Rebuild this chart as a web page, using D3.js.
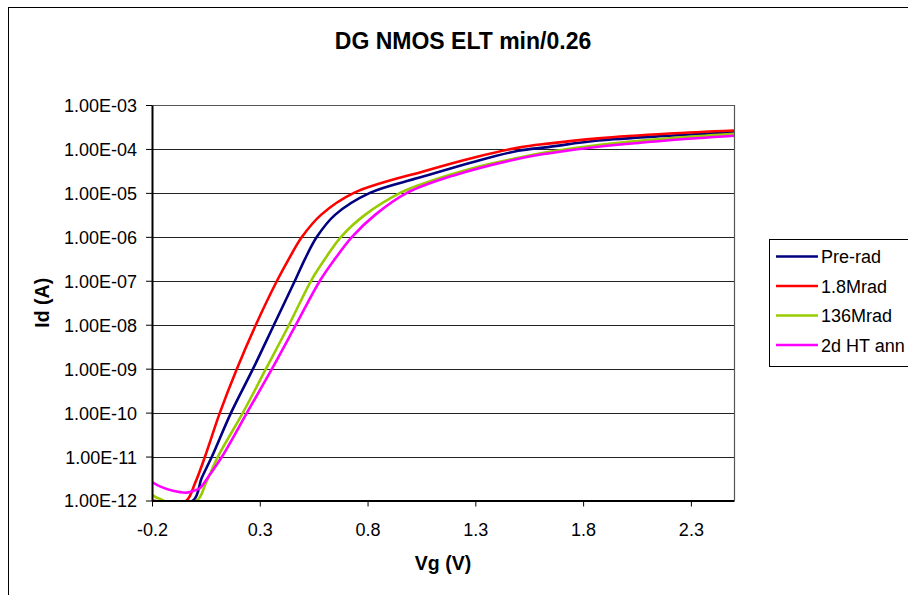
<!DOCTYPE html>
<html>
<head>
<meta charset="utf-8">
<script src="https://cdn.jsdelivr.net/npm/d3@7"></script>
<style>
	body { margin: 0; background: #fff; }
	svg text { font-family: "Liberation Sans", Arial, sans-serif; fill: #000; }
</style>
</head>
<body>
<div id="chart"></div>
<script>
//-----------------------------------
// Data (Vg in V, Id in A)
const seriesNames = ["Pre-rad", "1.8Mrad", "136Mrad", "2d HT ann"];

const vgPreRad = [-0.2, -0.01, 0.03, 0.078, 0.167, 0.269, 0.366, 0.463, 0.51, 0.565, 0.649, 0.811, 1.037, 1.3, 1.5, 1.637, 1.87, 2.2, 2.5];
const idPreRad = [8.9e-13, 1.0e-12, 3.2e-12, 1e-11, 1e-10, 1e-9, 1e-8, 1e-7, 3.16e-7, 1e-6, 3.16e-6, 1e-5, 2.2e-5, 5.2e-5, 9.1e-5, 1.1e-4, 1.55e-4, 2.0e-4, 2.4e-4];

const vg18Mrad = [-0.2, -0.1, -0.04, 0.0, 0.046, 0.115, 0.194, 0.282, 0.38, 0.435, 0.496, 0.584, 0.737, 1.066, 1.3, 1.5, 1.637, 1.87, 2.2, 2.5];
const id18Mrad = [1.0e-12, 8.9e-13, 1.0e-12, 2.5e-12, 1e-11, 1e-10, 1e-9, 1e-8, 1e-7, 3.16e-7, 1e-6, 3.16e-6, 1e-5, 3.16e-5, 6.5e-5, 1.07e-4, 1.32e-4, 1.74e-4, 2.24e-4, 2.63e-4];

const vg136Mrad = [-0.2, -0.18, -0.16, -0.12, 0.008, 0.05, 0.106, 0.222, 0.329, 0.436, 0.538, 0.603, 0.677, 0.788, 0.951, 1.037, 1.3, 1.5, 1.637, 1.87, 2.2, 2.5];
const id136Mrad = [1.35e-12, 1.17e-12, 1.07e-12, 8.9e-13, 1e-12, 2.5e-12, 1e-11, 1e-10, 1e-9, 1e-8, 1e-7, 3.16e-7, 1e-6, 3.16e-6, 1e-5, 1.5e-5, 3.8e-5, 6.3e-5, 8.5e-5, 1.23e-4, 1.74e-4, 2.2e-4];

const vgAnneal = [-0.2, -0.163, -0.103, -0.038, -0.001, 0.022, 0.07, 0.125, 0.241, 0.357, 0.468, 0.579, 0.649, 0.728, 0.835, 0.983, 1.2, 1.5, 1.637, 1.87, 2.2, 2.5];
const idAnneal = [2.63e-12, 2.09e-12, 1.66e-12, 1.51e-12, 1.70e-12, 1.91e-12, 4.0e-12, 1e-11, 1e-10, 1e-9, 1e-8, 1e-7, 3.16e-7, 1e-6, 3.16e-6, 1e-5, 2.5e-5, 6.0e-5, 7.9e-5, 1.12e-4, 1.58e-4, 2.0e-4];

const xTicks = [-0.2, 0.3, 0.8, 1.3, 1.8, 2.3];
const yTicks = [1e-12, 1e-11, 1e-10, 1e-9, 1e-8, 1e-7, 1e-6, 1e-5, 1e-4, 1e-3];

const seriesColors = ["#000080", "#FF0000", "#99CC00", "#FF00FF"];

//-----------------------------------
function fmtExp(d) {
	let e = Math.round(Math.log10(d));
	let s = Math.abs(e) < 10 ? "0" + Math.abs(e) : "" + Math.abs(e);
	return "1.00E" + (e < 0 ? "-" : "+") + s;
}

function draw() {
	const width = 908, height = 595;
	const left = 152, right = 734, top = 105, bottom = 500.5;

	let svg = d3.select("#chart").append("svg")
		.attr("width", width).attr("height", height);

	// outer chart frame
	svg.append("rect")
		.attr("x", 8.5).attr("y", 7.5).attr("width", 1000).attr("height", 700)
		.attr("fill", "#fff").attr("stroke", "#000").attr("stroke-width", 1);

	let x = d3.scaleLinear().domain([-0.2, 2.5]).range([left, right]);
	let y = d3.scaleLog().domain([1e-12, 1e-3]).range([bottom, top]);

	//------- gridlines
	svg.append("g").selectAll("line").data(yTicks).join("line")
		.attr("x1", left).attr("x2", right)
		.attr("y1", d => Math.round(y(d)) + 0.5).attr("y2", d => Math.round(y(d)) + 0.5)
		.attr("stroke", "#222").attr("stroke-width", 1);

	// plot area border (top/right)
	svg.append("path")
		.attr("d", `M${left},${top + 0.5}H${right + 0.5}V${bottom}`)
		.attr("fill", "none").attr("stroke", "#555").attr("stroke-width", 1.2);

	//------- series
	svg.append("clipPath").attr("id", "plotClip")
		.append("rect").attr("x", left).attr("y", top).attr("width", right - left).attr("height", bottom - top);

	const allSeries = [
		{ vg: vgPreRad, id: idPreRad },
		{ vg: vg18Mrad, id: id18Mrad },
		{ vg: vg136Mrad, id: id136Mrad },
		{ vg: vgAnneal, id: idAnneal }
	];

	let line = d3.line()
		.x(d => x(d[0]))
		.y(d => y(d[1]))
		.curve(d3.curveCatmullRom.alpha(0.5));

	let gLines = svg.append("g").attr("clip-path", "url(#plotClip)");
	allSeries.forEach((s, i) => {
		let pts = s.vg.map((v, k) => [v, s.id[k]]);
		gLines.append("path")
			.attr("d", line(pts))
			.attr("fill", "none")
			.attr("stroke", seriesColors[i])
			.attr("stroke-width", 2.6)
			.attr("stroke-linejoin", "round");
	});

	//------- axes
	let yAxis = d3.axisLeft(y).tickValues(yTicks).tickFormat(fmtExp).tickSize(6).tickSizeOuter(0).tickPadding(9);
	let gy = svg.append("g").attr("transform", `translate(${left},0)`).call(yAxis);
	gy.select(".domain").attr("stroke", "#000").attr("stroke-width", 2);
	gy.selectAll(".tick line").attr("stroke", "#000");
	gy.selectAll(".tick text").attr("font-size", 18).attr("dy", "0.36em");

	let xAxis = d3.axisBottom(x).tickValues(xTicks).tickFormat(d => d.toFixed(1)).tickSize(6).tickSizeOuter(0);
	let gx = svg.append("g").attr("transform", `translate(0,${bottom})`).call(xAxis);
	gx.select(".domain").attr("stroke", "#000").attr("stroke-width", 2);
	gx.selectAll(".tick line").attr("stroke", "#000");
	gx.selectAll(".tick text").attr("font-size", 18).attr("dy", null).attr("y", 35);

	svg.selectAll("g").attr("font-family", null);

	//------- titles
	svg.append("text")
		.attr("x", 463).attr("y", 49)
		.attr("text-anchor", "middle")
		.attr("font-size", 23).attr("font-weight", "bold")
		.text("DG NMOS ELT min/0.26");

	svg.append("text")
		.attr("x", (left + right) / 2).attr("y", 570)
		.attr("text-anchor", "middle")
		.attr("font-size", 19.5).attr("font-weight", "bold")
		.text("Vg (V)");

	svg.append("text")
		.attr("transform", `translate(49,${(top + bottom) / 2}) rotate(-90)`)
		.attr("text-anchor", "middle")
		.attr("font-size", 19.5).attr("font-weight", "bold")
		.text("Id (A)");

	//------- legend
	let legend = svg.append("g");
	legend.append("rect")
		.attr("x", 769.5).attr("y", 239.5).attr("width", 200).attr("height", 127)
		.attr("fill", "#fff").attr("stroke", "#000").attr("stroke-width", 1);

	seriesNames.forEach((name, i) => {
		let cy = 256.5 + i * 29.5;
		legend.append("line")
			.attr("x1", 776).attr("x2", 818).attr("y1", cy).attr("y2", cy)
			.attr("stroke", seriesColors[i]).attr("stroke-width", 2.6);
		legend.append("text")
			.attr("x", 821).attr("y", cy + 6.5)
			.attr("font-size", 18)
			.text(name);
	});
}

draw();
</script>
</body>
</html>
